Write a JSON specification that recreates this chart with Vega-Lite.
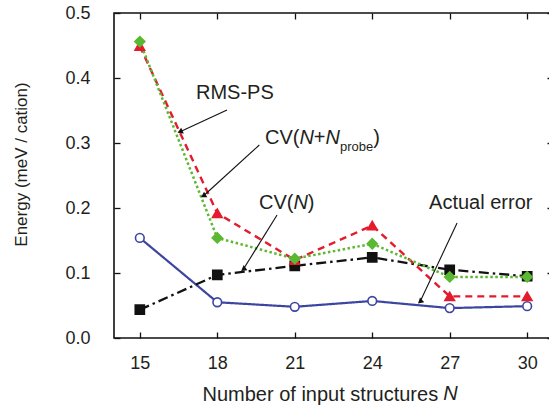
{
  "$schema": "https://vega.github.io/schema/vega-lite/v6.json",
  "width": 439,
  "height": 325,
  "autosize": {"type": "none"},
  "padding": {"left": 114, "top": 13, "right": 0, "bottom": 70},
  "background": "white",
  "config": {
    "font": "Liberation Sans",
    "view": {"stroke": "#111111", "strokeWidth": 1.6},
    "axis": {"domain": false, "grid": false, "tickColor": "#111111", "tickWidth": 1.3, "labelColor": "#231f20", "titleColor": "#231f20", "labelFont": "Liberation Sans", "titleFont": "Liberation Sans", "titleFontWeight": "normal"}
  },
  "datasets": {
    "series": [
      {"N": 15, "series": "Actual error", "E": 0.154},
      {"N": 18, "series": "Actual error", "E": 0.055},
      {"N": 21, "series": "Actual error", "E": 0.048},
      {"N": 24, "series": "Actual error", "E": 0.057},
      {"N": 27, "series": "Actual error", "E": 0.046},
      {"N": 30, "series": "Actual error", "E": 0.049},
      {"N": 15, "series": "CV(N)", "E": 0.0435},
      {"N": 18, "series": "CV(N)", "E": 0.097},
      {"N": 21, "series": "CV(N)", "E": 0.111},
      {"N": 24, "series": "CV(N)", "E": 0.124},
      {"N": 27, "series": "CV(N)", "E": 0.105},
      {"N": 30, "series": "CV(N)", "E": 0.095},
      {"N": 15, "series": "RMS-PS", "E": 0.449},
      {"N": 18, "series": "RMS-PS", "E": 0.192},
      {"N": 21, "series": "RMS-PS", "E": 0.12},
      {"N": 24, "series": "RMS-PS", "E": 0.173},
      {"N": 27, "series": "RMS-PS", "E": 0.064},
      {"N": 30, "series": "RMS-PS", "E": 0.064},
      {"N": 15, "series": "CV(N+Nprobe)", "E": 0.456},
      {"N": 18, "series": "CV(N+Nprobe)", "E": 0.154},
      {"N": 21, "series": "CV(N+Nprobe)", "E": 0.122},
      {"N": 24, "series": "CV(N+Nprobe)", "E": 0.145},
      {"N": 27, "series": "CV(N+Nprobe)", "E": 0.094},
      {"N": 30, "series": "CV(N+Nprobe)", "E": 0.094}
    ],
    "arrows": [
      {"arrow": "RMS-PS", "x": 18.377, "y": 0.3508, "x2": 16.557, "y2": 0.3174},
      {"arrow": "CV(N+Nprobe)", "x": 19.628, "y": 0.2969, "x2": 17.459, "y2": 0.2185},
      {"arrow": "CV(N)", "x": 20.314, "y": 0.1892, "x2": 19.008, "y2": 0.1057},
      {"arrow": "Actual error", "x": 27.285, "y": 0.1769, "x2": 25.852, "y2": 0.0558}
    ],
    "labels": [
      {"t": "RMS-PS", "x": 17.176, "y": 0.3677},
      {"t": "CV(", "x": 19.849, "y": 0.2985},
      {"t": "+", "x": 21.739, "y": 0.2985},
      {"t": ")", "x": 24.04, "y": 0.2985},
      {"t": "CV(", "x": 19.617, "y": 0.1985},
      {"t": ")", "x": 21.507, "y": 0.1985},
      {"t": "Actual error", "x": 26.2, "y": 0.199}
    ],
    "italic": [
      {"t": "N", "x": 21.181, "y": 0.2985},
      {"t": "N", "x": 22.192, "y": 0.2985},
      {"t": "N", "x": 20.949, "y": 0.1985},
      {"t": "N", "x": 26.75, "y": -0.0954}
    ],
    "subscript": [
      {"t": "probe", "x": 22.754, "y": 0.288}
    ]
  },
  "resolve": {"axis": {"x": "independent", "y": "independent"}},
  "layer": [
    {
      "data": {"name": "series"},
      "mark": {"type": "line", "clip": false},
      "encoding": {
        "x": {"field": "N", "type": "quantitative", "scale": {"domain": [14, 31], "nice": false, "zero": false},
          "axis": {"orient": "bottom", "values": [15, 18, 21, 24, 27, 30], "tickSize": -6, "labelPadding": 22, "labelFontSize": 18, "title": "Number of input structures", "titleFontSize": 20, "titleX": 88, "titleY": 62, "titleBaseline": "alphabetic", "titleAnchor": null, "titleAlign": "left"}},
        "y": {"field": "E", "type": "quantitative", "scale": {"domain": [0, 0.5], "nice": false},
          "axis": {"orient": "left", "values": [0, 0.1, 0.2, 0.3, 0.4, 0.5], "tickSize": -6, "labelPadding": 30, "labelFontSize": 18, "title": "Energy (meV / cation)", "titleFontSize": 17, "titleX": -93, "titleY": 151, "titleAngle": -90, "titleBaseline": "middle", "titleAlign": "center", "titleAnchor": null}},
        "stroke": {"field": "series", "type": "nominal", "legend": null,
          "scale": {"domain": ["Actual error", "CV(N)", "RMS-PS", "CV(N+Nprobe)"], "range": ["#3C46A0", "#111111", "#E41A2D", "#5BB832"]}},
        "strokeDash": {"field": "series", "type": "nominal", "legend": null,
          "scale": {"domain": ["Actual error", "CV(N)", "RMS-PS", "CV(N+Nprobe)"], "range": [[1, 0], [10, 4, 2.5, 4], [7, 5], [2.5, 2.5]]}},
        "strokeWidth": {"field": "series", "type": "nominal", "legend": null,
          "scale": {"domain": ["Actual error", "CV(N)", "RMS-PS", "CV(N+Nprobe)"], "range": [2.2, 2.5, 2.8, 2.8]}},
        "order": {"field": "N", "type": "quantitative"}
      }
    },
    {
      "data": {"name": "series"},
      "mark": {"type": "point", "filled": true, "opacity": 1, "strokeWidth": 1.6, "clip": false},
      "encoding": {
        "x": {"field": "N", "type": "quantitative", "axis": null},
        "y": {"field": "E", "type": "quantitative", "axis": null},
        "shape": {"field": "series", "type": "nominal", "legend": null,
          "scale": {"domain": ["Actual error", "CV(N)", "RMS-PS", "CV(N+Nprobe)"], "range": ["circle", "square", "triangle-up", "diamond"]}},
        "fill": {"field": "series", "type": "nominal", "legend": null,
          "scale": {"domain": ["Actual error", "CV(N)", "RMS-PS", "CV(N+Nprobe)"], "range": ["#ffffff", "#111111", "#E41A2D", "#5BB832"]}},
        "stroke": {"field": "series", "type": "nominal", "legend": null,
          "scale": {"domain": ["Actual error", "CV(N)", "RMS-PS", "CV(N+Nprobe)"], "range": ["#3C46A0", "#111111", "#E41A2D", "#5BB832"]}},
        "size": {"field": "series", "type": "nominal", "legend": null,
          "scale": {"domain": ["Actual error", "CV(N)", "RMS-PS", "CV(N+Nprobe)"], "range": [75, 100, 110, 130]}}
      }
    },
    {
      "data": {"name": "arrows"},
      "mark": {"type": "rule", "color": "#111111", "strokeWidth": 1.1},
      "encoding": {
        "x": {"field": "x", "type": "quantitative", "axis": null},
        "y": {"field": "y", "type": "quantitative", "axis": null},
        "x2": {"field": "x2"},
        "y2": {"field": "y2"}
      }
    },
    {
      "data": {"name": "arrows"},
      "mark": {"type": "point", "shape": "triangle-up", "filled": true, "color": "#111111", "size": 40, "opacity": 1},
      "encoding": {
        "x": {"field": "x2", "type": "quantitative", "axis": null},
        "y": {"field": "y2", "type": "quantitative", "axis": null},
        "angle": {"field": "arrow", "type": "nominal", "legend": null,
          "scale": {"domain": ["RMS-PS", "CV(N+Nprobe)", "CV(N)", "Actual error"], "range": [245, 228, 212, 205]}}
      }
    },
    {
      "data": {"name": "labels"},
      "mark": {"type": "text", "align": "left", "baseline": "alphabetic", "fontSize": 20, "color": "#231f20", "font": "Liberation Sans"},
      "encoding": {
        "x": {"field": "x", "type": "quantitative", "axis": null},
        "y": {"field": "y", "type": "quantitative", "axis": null},
        "text": {"field": "t"}
      }
    },
    {
      "data": {"name": "italic"},
      "mark": {"type": "text", "align": "left", "baseline": "alphabetic", "fontSize": 20, "fontStyle": "italic", "color": "#231f20", "font": "Liberation Sans", "clip": false},
      "encoding": {
        "x": {"field": "x", "type": "quantitative", "axis": null},
        "y": {"field": "y", "type": "quantitative", "axis": null},
        "text": {"field": "t"}
      }
    },
    {
      "data": {"name": "subscript"},
      "mark": {"type": "text", "align": "left", "baseline": "alphabetic", "fontSize": 13, "color": "#231f20", "font": "Liberation Sans"},
      "encoding": {
        "x": {"field": "x", "type": "quantitative", "axis": null},
        "y": {"field": "y", "type": "quantitative", "axis": null},
        "text": {"field": "t"}
      }
    },
    {
      "data": {"name": "series"},
      "mark": {"type": "point", "opacity": 0, "size": 1},
      "encoding": {
        "x": {"field": "N", "type": "quantitative",
          "axis": {"orient": "top", "values": [15, 18, 21, 24, 27, 30], "tickSize": -6, "labels": false, "title": null}},
        "y": {"field": "E", "type": "quantitative",
          "axis": {"orient": "right", "values": [0, 0.1, 0.2, 0.3, 0.4, 0.5], "tickSize": -6, "labels": false, "title": null}}
      }
    }
  ]
}
